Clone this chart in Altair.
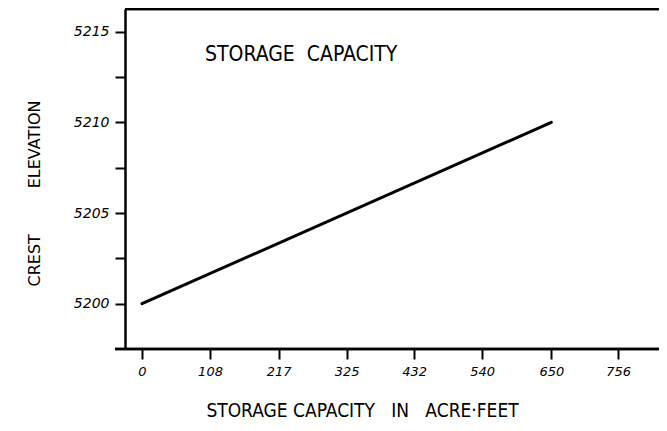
import altair as alt
import pandas as pd

# Data
capacity = [0, 650]            # acre-feet
elevation = [5200, 5210]       # crest elevation
x_ticks = [0, 108, 217, 325, 432, 540, 650, 756]
y_ticks = [5200, 5202.5, 5205, 5207.5, 5210, 5212.5, 5215]

df = pd.DataFrame({"capacity": capacity, "elevation": elevation})

W, H = 534, 340
NB = "\u00a0"
HAND = "DejaVu Sans Condensed, Liberation Sans Narrow, DejaVu Sans"

x_scale = alt.Scale(domain=[-27, 821], nice=False, zero=False)
y_scale = alt.Scale(domain=[5197.5, 5216.25], nice=False, zero=False)

line = alt.Chart(df).mark_line(color="black", strokeWidth=3, strokeCap="round").encode(
    x=alt.X("capacity:Q", scale=x_scale,
            axis=alt.Axis(values=x_ticks, domain=False, grid=False, tickSize=10, tickWidth=2,
                          tickColor="black", labelFont="DejaVu Sans", labelFontStyle="italic",
                          labelFontSize=13, labelColor="black", labelPadding=6,
                          title="STORAGE" + NB + "CAPACITY" + NB * 3 + "IN" + NB * 3 + "ACRE·FEET",
                          titleFont=HAND, titleFontSize=19, titleFontWeight="normal",
                          titleColor="black", titleX=237, titleY=67,
                          titleAlign="center", titleBaseline="alphabetic")),
    y=alt.Y("elevation:Q", scale=y_scale,
            axis=alt.Axis(values=y_ticks, format="d",
                          labelExpr="datum.value % 5 == 0 ? datum.label : ''",
                          domain=True, domainColor="black", domainWidth=2.5, grid=False,
                          tickSize=10, tickWidth=2, tickColor="black",
                          labelFont="DejaVu Sans", labelFontStyle="italic", labelFontSize=14,
                          labelColor="black", labelPadding=6,
                          title="CREST" + NB * 9 + "ELEVATION",
                          titleFont="DejaVu Sans", titleFontSize=16, titleFontWeight="normal",
                          titleColor="black", titleX=-91, titleY=184, titleAngle=270,
                          titleAlign="center", titleBaseline="middle")),
)

top_rule = alt.Chart(df).mark_rule(color="black", strokeWidth=2.5).encode(
    y=alt.value(0), x=alt.value(0), x2=alt.value(W)
)
bottom_rule = alt.Chart(df).mark_rule(color="black", strokeWidth=2.5).encode(
    y=alt.value(H), x=alt.value(-10), x2=alt.value(W)
)

chart = alt.layer(line, top_rule, bottom_rule).properties(
    width=W, height=H,
    autosize=alt.AutoSizeParams(type="none"),
    padding={"left": 117, "top": 1, "right": 0, "bottom": 74},
    background="white",
    title=alt.TitleParams(
        "STORAGE" + NB * 2 + "CAPACITY", font=HAND, fontSize=21, fontWeight="normal",
        color="black", anchor="start", frame="group", baseline="alphabetic",
        offset=0, dx=80, dy=74, orient="top"),
).configure_view(stroke=None)

chart.save("out.html", embed_options={"renderer": "svg", "actions": False})
